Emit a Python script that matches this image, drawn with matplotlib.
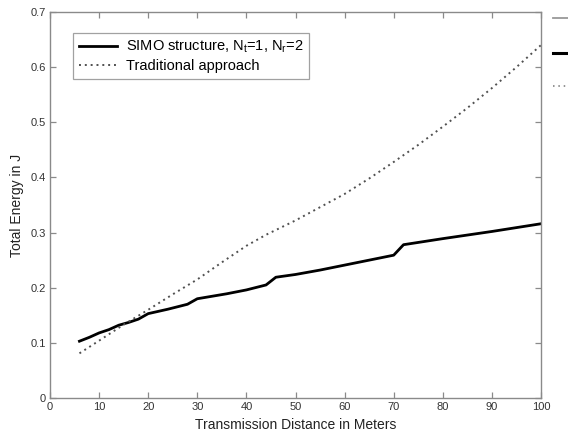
import matplotlib
matplotlib.use("Agg")
import matplotlib.pyplot as plt
from matplotlib.lines import Line2D

plt.rcParams["font.family"] = ["Liberation Sans", "DejaVu Sans"]
plt.rcParams["mathtext.fontset"] = "custom"
plt.rcParams["mathtext.rm"] = "Liberation Sans"

# Total energy vs. transmission distance
simo_dist = [6, 8, 10, 12, 14, 16, 18, 20, 24, 28, 30, 32, 36, 40, 44, 46,
             50, 55, 60, 65, 70, 72, 80, 90, 100]
simo_energy = [0.103, 0.110, 0.118, 0.124, 0.132, 0.137, 0.143, 0.153, 0.161,
               0.170, 0.180, 0.183, 0.189, 0.196, 0.205, 0.219, 0.224, 0.232,
               0.241, 0.250, 0.259, 0.278, 0.289, 0.302, 0.316]

trad_dist = [6, 10, 15, 20, 25, 30, 35, 40, 42, 44, 50, 55, 60, 65, 70, 75,
             80, 85, 90, 95, 100]
trad_energy = [0.081, 0.104, 0.133, 0.160, 0.188, 0.215, 0.246, 0.276, 0.286,
               0.296, 0.322, 0.346, 0.370, 0.398, 0.428, 0.459, 0.492, 0.526,
               0.562, 0.600, 0.640]

x_ticks = [0, 10, 20, 30, 40, 50, 60, 70, 80, 90, 100]
y_ticks = [0, 0.1, 0.2, 0.3, 0.4, 0.5, 0.6, 0.7]
y_tick_labels = ["0", "0.1", "0.2", "0.3", "0.4", "0.5", "0.6", "0.7"]

fig = plt.figure(figsize=(5.68, 4.36), dpi=100)
ax = fig.add_axes([50 / 568, 38 / 436, 491 / 568, 386 / 436])

ax.plot(simo_dist, simo_energy, color="black", lw=2.0,
        label=r"SIMO structure, N$\mathregular{_t}$=1, N$\mathregular{_r}$=2")
ax.plot(trad_dist, trad_energy, color="#505050", lw=1.4, linestyle=(0, (1, 2.0)),
        label="Traditional approach")

ax.set_xlim(0, 100)
ax.set_ylim(0, 0.7)
ax.set_xticks(x_ticks)
ax.set_yticks(y_ticks)
ax.set_yticklabels(y_tick_labels)

for s in ax.spines.values():
    s.set_color("#8a8a8a")
    s.set_linewidth(1.0)
ax.tick_params(direction="in", length=4, width=0.9, color="#8a8a8a",
               labelsize=8, labelcolor="#333333", top=True, right=True, pad=3)

ax.set_xlabel("Transmission Distance in Meters", fontsize=10, color="#222222", labelpad=4)
ax.set_ylabel("Total Energy in J", fontsize=10, color="#222222", labelpad=5)

leg = ax.legend(loc="upper left", bbox_to_anchor=(0.047, 0.946), borderaxespad=0,
                fontsize=10.5, frameon=True, fancybox=False, handlelength=2.6,
                handletextpad=0.6, borderpad=0.4, labelspacing=0.25)
leg.get_frame().set_edgecolor("#8a8a8a")
leg.get_frame().set_linewidth(0.9)

# Partial legend entries of the neighbouring panel at the right edge
fig.add_artist(Line2D([553 / 568, 1.0], [1 - 18 / 436] * 2, transform=fig.transFigure,
                      color="#999999", lw=1.3))
fig.add_artist(Line2D([553 / 568, 1.0], [1 - 53 / 436] * 2, transform=fig.transFigure,
                      color="black", lw=2.2))
fig.add_artist(Line2D([553 / 568, 1.0], [1 - 86 / 436] * 2, transform=fig.transFigure,
                      color="#777777", lw=1.1, linestyle=(0, (1, 2.5))))

fig.savefig("out.png", dpi=100)
